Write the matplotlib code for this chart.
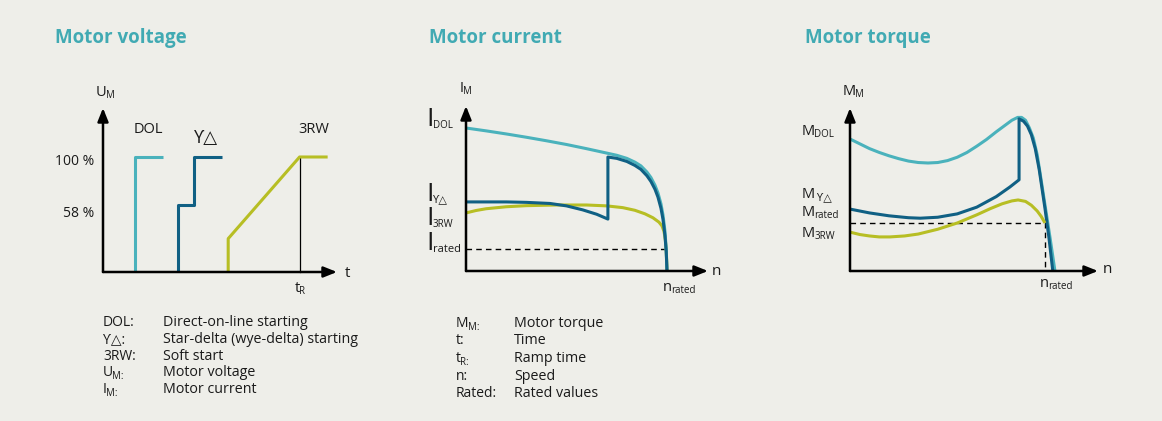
import matplotlib
matplotlib.use('Agg')
from matplotlib import pyplot as plt
from matplotlib.text import Annotation

plt.rcParams['font.family'] = ['Open Sans', 'DejaVu Sans']

W, H = 1162, 421
BG = '#eeeee9'
TXT = '#1a1a1a'
TEAL = '#41aab3'
C_DOL = '#4ab2bc'
C_YD = '#106084'
C_3RW = '#b7be24'
YD = 'ϒ△'

# Motor voltage (time in arbitrary units, voltage in %)
dol_t = [1.37, 1.37, 2.56]
dol_u = [0, 100, 100]
yd_t = [3.2, 3.2, 3.9, 3.9, 5.1]
yd_u = [0, 58, 58, 100, 100]
rw_t = [5.35, 5.35, 8.4, 9.6]
rw_u = [0, 29, 100, 100]
t_ramp = 8.4

# Motor current (speed relative to n_rated, current relative to I_rated)
cur_dol_n = [0, 0.1, 0.2, 0.3, 0.4, 0.5, 0.6, 0.7, 0.75, 0.8, 0.84, 0.87, 0.9, 0.92,
             0.94, 0.955, 0.97, 0.98, 0.99, 0.996, 1.0]
cur_dol_i = [6.5, 6.37, 6.23, 6.08, 5.92, 5.75, 5.56, 5.36, 5.26, 5.12, 4.95, 4.78, 4.5, 4.25,
             3.9, 3.55, 3.05, 2.55, 1.8, 1.0, 0]
cur_yd_n = [0, 0.2, 0.3, 0.418, 0.5, 0.58, 0.65, 0.706, 0.706, 0.75, 0.8, 0.84, 0.87, 0.9,
            0.92, 0.94, 0.955, 0.97, 0.98, 0.99, 0.996, 1.0]
cur_yd_i = [3.14, 3.14, 3.12, 3.07, 2.96, 2.78, 2.58, 2.36, 5.18, 5.12, 4.98, 4.8, 4.62, 4.33,
            4.07, 3.72, 3.36, 2.85, 2.35, 1.6, 0.9, 0]
cur_rw_n = [0, 0.05, 0.1, 0.2, 0.3, 0.45, 0.6, 0.7, 0.78, 0.84, 0.89, 0.93, 0.96, 0.975,
            0.985, 0.992, 0.997, 1.0]
cur_rw_i = [2.64, 2.75, 2.83, 2.92, 2.97, 3.0, 3.0, 2.96, 2.88, 2.76, 2.6, 2.42, 2.22, 2.05,
            1.8, 1.4, 0.8, 0]
i_rated = 1.0

# Motor torque (speed relative to n_rated, torque relative to M_rated)
trq_dol_n = [0, 0.05, 0.1, 0.15, 0.2, 0.25, 0.3, 0.35, 0.4, 0.45, 0.5, 0.55, 0.6, 0.65,
             0.7, 0.75, 0.8, 0.83, 0.86, 0.88, 0.9, 0.92, 0.94, 0.96, 0.974, 1.0, 1.026, 1.051]
trq_dol_m = [2.75, 2.65, 2.55, 2.47, 2.4, 2.34, 2.29, 2.26, 2.25, 2.26, 2.3, 2.37, 2.47, 2.6,
             2.74, 2.9, 3.05, 3.14, 3.2, 3.2, 3.14, 2.98, 2.77, 2.42, 2.06, 1.375, 0.69, 0]
trq_yd_n = [0, 0.1, 0.2, 0.3, 0.36, 0.45, 0.55, 0.65, 0.75, 0.82, 0.867, 0.867, 0.89, 0.91,
            0.93, 0.95, 0.97, 1.0, 1.02, 1.04]
trq_yd_m = [1.29, 1.21, 1.15, 1.11, 1.1, 1.12, 1.19, 1.33, 1.55, 1.75, 1.9, 3.17, 3.12, 3.02,
            2.84, 2.55, 2.12, 1.3, 0.7, 0]
trq_rw_n = [0, 0.05, 0.1, 0.15, 0.205, 0.28, 0.35, 0.45, 0.55, 0.65, 0.72, 0.78, 0.83, 0.862,
            0.9, 0.93, 0.96, 0.98, 1.0]
trq_rw_m = [0.81, 0.76, 0.73, 0.71, 0.71, 0.73, 0.77, 0.87, 1.0, 1.17, 1.3, 1.4, 1.46, 1.48,
            1.45, 1.37, 1.25, 1.14, 1.0]
m_rated = 1.0

legend1_keys = [('DOL:', ''), (YD + ':', ''), ('3RW:', ''), ('U', 'M:'), ('I', 'M:')]
legend1_text = ['Direct-on-line starting', 'Star-delta (wye-delta) starting', 'Soft start',
                'Motor voltage', 'Motor current']
legend2_keys = [('M', 'M:'), ('t:', ''), ('t', 'R:'), ('n:', ''), ('Rated:', '')]
legend2_text = ['Motor torque', 'Time', 'Ramp time', 'Speed', 'Rated values']

fig = plt.figure(figsize=(W / 100, H / 100), dpi=100)
fig.patch.set_facecolor(BG)


def px_axes(left, top, right, bottom):
    ax = fig.add_axes([left / W, 1 - bottom / H, (right - left) / W, (bottom - top) / H])
    ax.set_axis_off()
    for end in [(1, 0), (0, 1)]:
        ax.annotate('', xy=end, xytext=(0, 0), xycoords='axes fraction',
                    arrowprops=dict(arrowstyle='-|>,head_length=0.8,head_width=0.32',
                                    color='black', lw=1.8, shrinkA=0, shrinkB=0))
    return ax


def label(x, y, main, sub='', size=10.5, subsize=7, drop=0.8, color=TXT, weight='normal'):
    t = fig.text(x / W, 1 - y / H, main, fontsize=size, va='baseline', ha='left',
                 color=color, fontweight=weight)
    if sub:
        fig.add_artist(Annotation(sub, xy=(1, 0), xycoords=t, xytext=(-0.6, -drop),
                                  textcoords='offset points', fontsize=subsize,
                                  va='bottom', ha='left', color=color))
    return t


def curve(ax, x, y, color, lw=2.2):
    ax.plot(x, y, color=color, lw=lw, solid_joinstyle='round', solid_capstyle='butt',
            clip_on=False)


# titles
label(55, 43, 'Motor voltage', size=13.5, color=TEAL, weight='bold')
label(429, 43, 'Motor current', size=13.5, color=TEAL, weight='bold')
label(805, 43, 'Motor torque', size=13.5, color=TEAL, weight='bold')

# ---- Motor voltage
ax1 = px_axes(103, 108, 337, 272)
ax1.set_xlim(0, 10)
ax1.set_ylim(0, 142.6)
ax1.plot([t_ramp, t_ramp], [0, 100], color='black', lw=0.9, clip_on=False)
curve(ax1, dol_t, dol_u, C_DOL)
curve(ax1, yd_t, yd_u, C_YD)
curve(ax1, rw_t, rw_u, C_3RW)
label(96, 96, 'U', 'M')
label(134, 133, 'DOL', size=10.5)
label(194, 143, YD, size=13)
label(298, 133, '3RW', size=10.5)
fig.text(94 / W, 1 - 165 / H, '100 %', fontsize=10, ha='right', va='baseline', color=TXT)
fig.text(94 / W, 1 - 217 / H, '58 %', fontsize=10, ha='right', va='baseline', color=TXT)
label(345, 277, 't', size=11)
label(295, 292, 't', 'R')

# ---- Motor current
ax2 = px_axes(466, 106, 708, 271)
ax2.set_xlim(0, 242 / 201)
ax2.set_ylim(0, 165 / 22)
ax2.plot([0, 1.0], [i_rated, i_rated], color='black', lw=1.0, ls=(0, (4, 3)), clip_on=False)
curve(ax2, cur_rw_n, cur_rw_i, C_3RW)
curve(ax2, cur_dol_n, cur_dol_i, C_DOL)
curve(ax2, cur_yd_n, cur_yd_i, C_YD)
label(460, 92, 'I', 'M')
label(426, 126, 'I', 'DOL', size=19, subsize=7, drop=-1)
label(426, 201, 'I', YD, size=19, subsize=8, drop=-1)
label(426, 225, 'I', '3RW', size=19, subsize=7, drop=-1)
label(426, 250, 'I', 'rated', size=19, subsize=8, drop=-1)
label(712, 275, 'n', size=11)
label(663, 291, 'n', 'rated')

# ---- Motor torque
ax3 = px_axes(850, 108, 1098, 271)
ax3.set_xlim(0, 248 / 195)
ax3.set_ylim(0, 163 / 48)
ax3.plot([0, 1.0, 1.0], [m_rated, m_rated, 0], color='black', lw=1.0, ls=(0, (4, 3)),
         clip_on=False)
curve(ax3, trq_dol_n, trq_dol_m, C_DOL)
curve(ax3, trq_yd_n, trq_yd_m, C_YD)
curve(ax3, trq_rw_n, trq_rw_m, C_3RW)
label(843, 95, 'M', 'M')
label(802, 135, 'M', 'DOL')
label(802, 198, 'M', ' ' + YD, subsize=8)
label(802, 216, 'M', 'rated')
label(802, 237, 'M', '3RW')
label(1103, 273, 'n', size=11)
label(1040, 287, 'n', 'rated')

# ---- legends
for i, (key, txt) in enumerate(zip(legend1_keys, legend1_text)):
    y = 326 + i * 16.8
    label(103, y, key[0], key[1], size=10, subsize=7, drop=1.5)
    label(163, y, txt, size=10.3)
for i, (key, txt) in enumerate(zip(legend2_keys, legend2_text)):
    y = 327 + i * 17.5
    label(456, y, key[0], key[1], size=10, subsize=7, drop=1.5)
    label(514, y, txt, size=10.3)

fig.savefig('out.png', dpi=100, facecolor=BG)
